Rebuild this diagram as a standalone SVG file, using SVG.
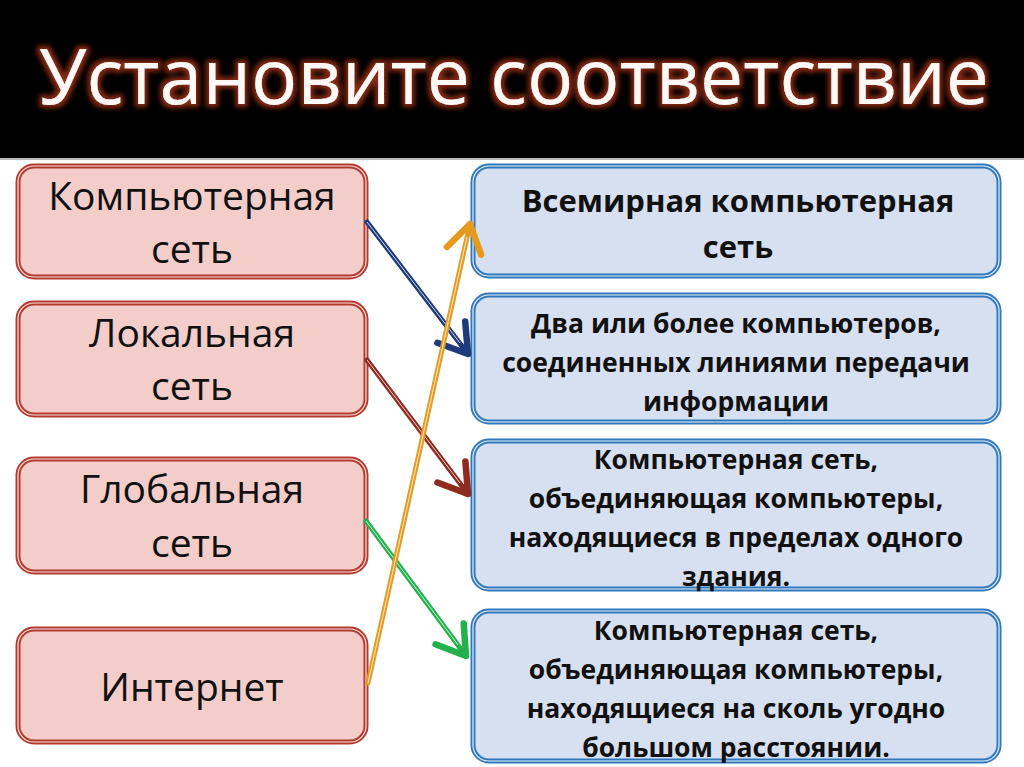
<svg xmlns="http://www.w3.org/2000/svg" width="1024" height="767" viewBox="0 0 1024 767">
<defs>
<style>
.lbox rect.o{fill:#f2cdca;stroke:#b33a2f;stroke-width:5}
.lbox rect.i{fill:none;stroke:#f7e0dd;stroke-width:1.2}
.rbox rect.o{fill:#d7e0f0;stroke:#2f78bd;stroke-width:5}
.rbox rect.i{fill:none;stroke:#e8f0fa;stroke-width:1.2}
.lt{font-family:"Open Sans","DejaVu Sans",sans-serif;font-size:39px;fill:#111;text-anchor:middle}
.rt{font-family:"Open Sans","DejaVu Sans",sans-serif;font-size:26.5px;font-weight:bold;fill:#111;text-anchor:middle}
.rt1{font-size:31px}
.title{font-family:"Open Sans","DejaVu Sans",sans-serif;font-size:77px;fill:#fff8f4;text-anchor:middle}
.ln{fill:none;stroke-width:5;stroke-linecap:round}
.hl{fill:none;stroke:#ffffff;stroke-width:1;opacity:0.8}
</style>
<filter id="glow" x="-5%" y="-30%" width="110%" height="160%">
<feMorphology in="SourceAlpha" operator="dilate" radius="3" result="d"/>
<feGaussianBlur in="d" stdDeviation="2.5" result="b"/>
<feFlood flood-color="#8a2a14"/>
<feComposite in2="b" operator="in" result="g"/>
<feMerge><feMergeNode in="g"/><feMergeNode in="SourceGraphic"/></feMerge>
</filter>
<marker id="mNavy" markerWidth="9" markerHeight="9" refX="6.5" refY="4.5" orient="auto" markerUnits="strokeWidth"><path d="M1,1 L6.5,4.5 L1,8" fill="none" stroke="#1f3a7a" stroke-width="1.3" stroke-linecap="round" stroke-linejoin="round"/></marker>
<marker id="mRed" markerWidth="9" markerHeight="9" refX="6.5" refY="4.5" orient="auto" markerUnits="strokeWidth"><path d="M1,1 L6.5,4.5 L1,8" fill="none" stroke="#8e2a1e" stroke-width="1.3" stroke-linecap="round" stroke-linejoin="round"/></marker>
<marker id="mGreen" markerWidth="9" markerHeight="9" refX="6.5" refY="4.5" orient="auto" markerUnits="strokeWidth"><path d="M1,1 L6.5,4.5 L1,8" fill="none" stroke="#22b14c" stroke-width="1.3" stroke-linecap="round" stroke-linejoin="round"/></marker>
<marker id="mOrange" markerWidth="9" markerHeight="9" refX="6.5" refY="4.5" orient="auto" markerUnits="strokeWidth"><path d="M1,1 L6.5,4.5 L1,8" fill="none" stroke="#e59a1e" stroke-width="1.3" stroke-linecap="round" stroke-linejoin="round"/></marker>
</defs>
<rect x="0" y="0" width="1024" height="767" fill="#ffffff"/>
<rect x="0" y="0" width="1024" height="158" fill="#000000"/>
<rect x="0" y="158" width="1024" height="2" fill="#bdbdbd"/>
<text class="title" x="514" y="104" filter="url(#glow)">Установите соответствие</text>

<g id="left1" class="lbox"><rect class="o" x="18" y="166" width="348" height="111" rx="16"/><rect class="i" x="18" y="166" width="348" height="111" rx="16"/><text class="lt" x="192" y="210">Компьютерная</text><text class="lt" x="192" y="263">сеть</text></g>
<g id="left2" class="lbox"><rect class="o" x="18" y="303" width="348" height="112" rx="16"/><rect class="i" x="18" y="303" width="348" height="112" rx="16"/><text class="lt" x="192" y="347">Локальная</text><text class="lt" x="192" y="400">сеть</text></g>
<g id="left3" class="lbox"><rect class="o" x="18" y="459" width="348" height="113" rx="16"/><rect class="i" x="18" y="459" width="348" height="113" rx="16"/><text class="lt" x="192" y="503">Глобальная</text><text class="lt" x="192" y="557">сеть</text></g>
<g id="left4" class="lbox"><rect class="o" x="18" y="629" width="348" height="113" rx="16"/><rect class="i" x="18" y="629" width="348" height="113" rx="16"/><text class="lt" x="192" y="701">Интернет</text></g>

<g id="right1" class="rbox"><rect class="o" x="473" y="166" width="526" height="110" rx="16"/><rect class="i" x="473" y="166" width="526" height="110" rx="16"/><text class="rt rt1" x="738" y="212">Всемирная компьютерная</text><text class="rt rt1" x="738" y="258">сеть</text></g>
<g id="right2" class="rbox"><rect class="o" x="473" y="295" width="526" height="127" rx="16"/><rect class="i" x="473" y="295" width="526" height="127" rx="16"/><text class="rt" x="736" y="333">Два или более компьютеров,</text><text class="rt" x="736" y="372">соединенных линиями передачи</text><text class="rt" x="736" y="411">информации</text></g>
<g id="right3" class="rbox"><rect class="o" x="473" y="441" width="526" height="148" rx="16"/><rect class="i" x="473" y="441" width="526" height="148" rx="16"/><text class="rt" x="736" y="469">Компьютерная сеть,</text><text class="rt" x="736" y="508">объединяющая компьютеры,</text><text class="rt" x="736" y="547">находящиеся в пределах одного</text><text class="rt" x="736" y="586">здания.</text></g>
<g id="right4" class="rbox"><rect class="o" x="473" y="611" width="526" height="150" rx="16"/><rect class="i" x="473" y="611" width="526" height="150" rx="16"/><text class="rt" x="736" y="640">Компьютерная сеть,</text><text class="rt" x="736" y="679">объединяющая компьютеры,</text><text class="rt" x="736" y="718">находящиеся на сколь угодно</text><text class="rt" x="736" y="757">большом расстоянии.</text></g>

<g id="connectors">
<line class="ln" x1="367" y1="222" x2="468" y2="354" stroke="#1f3a7a" marker-end="url(#mNavy)"/>
<line class="hl" x1="367" y1="222" x2="460" y2="343"/>
<line class="ln" x1="367" y1="360" x2="468" y2="494" stroke="#8e2a1e" marker-end="url(#mRed)"/>
<line class="hl" x1="367" y1="360" x2="460" y2="483"/>
<line class="ln" x1="366" y1="521" x2="466" y2="656" stroke="#22b14c" marker-end="url(#mGreen)"/>
<line class="hl" x1="366" y1="521" x2="458" y2="645"/>
<line class="ln" x1="368" y1="683" x2="470" y2="224" stroke="#e59a1e" marker-end="url(#mOrange)"/>
<line class="hl" x1="368" y1="683" x2="467" y2="237"/>
</g>
</svg>
